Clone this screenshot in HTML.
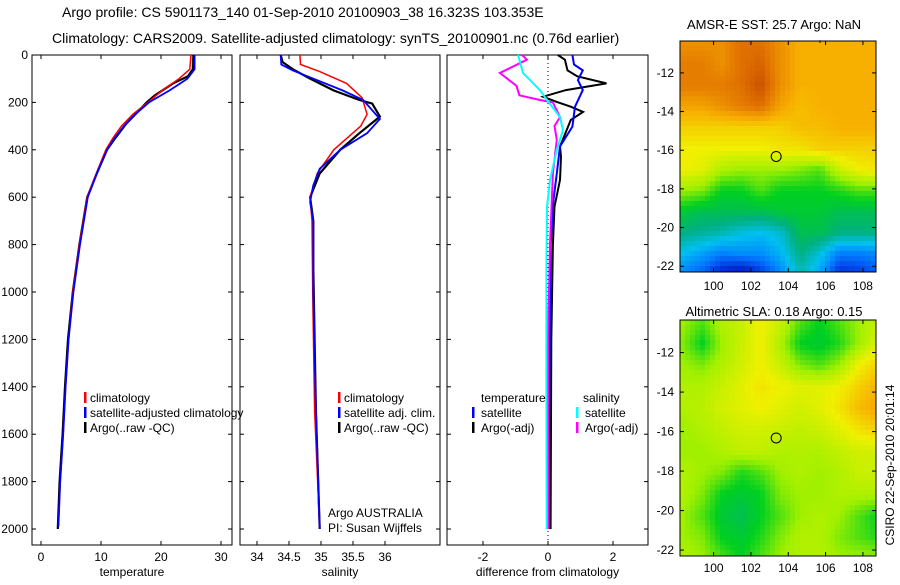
<!DOCTYPE html>
<html><head><meta charset="utf-8"><style>
body{margin:0;background:#fff;width:900px;height:580px;overflow:hidden}
svg{font-family:"Liberation Sans",sans-serif}
</style></head><body>
<svg id="c" width="900" height="580">
<text x="62" y="17" font-size="14">Argo profile: CS 5901173_140 01-Sep-2010 20100903_38 16.323S 103.353E</text>
<text x="52" y="43" font-size="14">Climatology: CARS2009. Satellite-adjusted climatology: synTS_20100901.nc (0.76d earlier)</text>
<text x="774" y="29" font-size="13" text-anchor="middle">AMSR-E SST: 25.7 Argo: NaN</text>
<text x="774" y="316" font-size="13" text-anchor="middle">Altimetric SLA: 0.18 Argo: 0.15</text>
<text transform="translate(894,465) rotate(-90)" font-size="12" text-anchor="middle">CSIRO 22-Sep-2010 20:01:14</text>
</svg>
<script>
// ---- data ----
const depthTicks=[0,200,400,600,800,1000,1200,1400,1600,1800,2000];
const tempTicks=[0,10,20,30];
const salTicks=[34,34.5,35,35.5,36];
const diffTicks=[-2,0,2];
const tClimD=[0,60,100,150,200,250,300,350,400,500,600,800,1000,1200,1400,1600,1800,1990];
const tClim=[25.0,24.8,23.0,20.2,17.8,15.3,13.4,12.0,10.8,9.2,7.7,6.4,5.3,4.6,4.1,3.7,3.2,2.9];
const tSat=[25.6,25.6,24.4,21.4,18.0,15.7,13.8,12.3,11.0,9.3,7.8,6.5,5.4,4.6,4.1,3.7,3.2,2.9];
const tArgD=[0,60,90,120,170,200,230,290,350,400,500,600,800,1000,1200,1400,1600,1800,2000];
const tArgo=[25.4,25.3,24.5,22.0,19.0,17.6,16.5,14.2,12.4,11.0,9.3,7.7,6.4,5.3,4.5,4.0,3.6,3.1,2.8];
const sClimD=[0,40,70,120,180,250,300,400,500,600,700,1000,1500,2000];
const sClim=[34.67,34.68,34.98,35.4,35.64,35.72,35.62,35.2,34.94,34.83,34.86,34.87,34.9,34.98];
const sSatD=[0,40,65,150,190,270,330,400,480,550,620,700,1000,1500,2000];
const sSat=[34.37,34.38,34.56,35.34,35.66,35.92,35.72,35.3,34.98,34.88,34.83,34.88,34.88,34.92,34.98];
const sArgD=[0,30,60,100,150,190,205,260,330,400,500,600,700,900,1500,2000];
const sArgo=[34.37,34.4,34.56,34.83,35.2,35.6,35.8,35.92,35.6,35.3,34.98,34.83,34.88,34.88,34.92,34.98];
const dTD=[0,40,65,106,148,218,302,386,500,610,800,1200,1600,2000];
const dTSat=[0.75,0.8,1.07,0.92,1.07,0.83,0.75,0.37,0.27,0.17,0.08,0.05,0.03,0.02];
const dTAD=[0,20,65,90,120,148,176,197,218,240,274,386,430,527,640,800,1200,2000];
const dTArgo=[0.3,0.52,0.6,0.9,1.8,0.55,-0.15,0.25,0.7,1.08,0.7,0.37,0.4,0.37,0.2,0.15,0.1,0.08];
const dSD=[0,76,148,190,262,316,400,527,640,900,1400,2000];
const dSSat=[-0.92,-0.77,-0.25,-0.03,0.37,0.46,0.27,0.06,-0.03,-0.05,-0.05,-0.04];
const dSAD=[0,20,76,130,170,190,200,262,300,358,500,800,1200,2000];
const dSArgo=[-0.8,-0.65,-1.48,-0.97,-0.88,-0.25,0.15,0.37,0.2,0.27,0.15,0.06,0.0,0.0];
const sstGrid=[
[.85,.85,.85,.9,.9,.85,.8,.8,.8,.8,.8],
[.88,.88,.85,.9,.92,.85,.8,.8,.8,.8,.8],
[.88,.88,.88,.9,.95,.85,.8,.8,.8,.8,.8],
[.82,.82,.85,.88,.9,.82,.78,.8,.8,.8,.8],
[.75,.75,.75,.75,.75,.75,.78,.78,.8,.8,.8],
[.7,.7,.7,.7,.7,.72,.72,.75,.75,.75,.75],
[.7,.68,.62,.6,.6,.6,.58,.55,.65,.7,.72],
[.6,.58,.5,.5,.55,.5,.5,.5,.52,.55,.55],
[.48,.45,.45,.45,.45,.48,.48,.48,.45,.45,.45],
[.4,.38,.36,.32,.3,.33,.45,.45,.4,.4,.4],
[.3,.25,.2,.22,.22,.28,.4,.32,.2,.2,.22],
[.2,.15,.06,.02,.1,.2,.35,.25,.08,.1,.15]];
const slaGrid=[
[.6,.55,.62,.65,.7,.65,.55,.5,.55,.6,.65],
[.58,.5,.6,.65,.7,.62,.5,.48,.52,.6,.68],
[.6,.58,.62,.66,.7,.65,.58,.55,.6,.7,.75],
[.62,.62,.65,.68,.72,.7,.68,.68,.7,.75,.8],
[.62,.63,.66,.68,.7,.68,.66,.68,.72,.78,.82],
[.6,.62,.64,.66,.66,.65,.64,.65,.68,.72,.75],
[.6,.6,.62,.64,.64,.62,.62,.62,.64,.66,.66],
[.62,.6,.58,.52,.55,.6,.62,.6,.62,.65,.65],
[.62,.58,.5,.48,.5,.58,.6,.6,.62,.62,.62],
[.6,.55,.48,.45,.5,.55,.6,.62,.6,.55,.5],
[.6,.58,.5,.48,.52,.58,.62,.62,.58,.55,.52],
[.62,.6,.55,.5,.55,.6,.62,.62,.6,.6,.6]];
const lonTicks=[100,102,104,106,108];
const latTicks=[-12,-14,-16,-18,-20,-22];
const argoLon=103.353, argoLat=-16.323;

const S=document.getElementById('c');const NS='http://www.w3.org/2000/svg';
function el(t,a,txt){const e=document.createElementNS(NS,t);for(const k in a)e.setAttribute(k,a[k]);if(txt!==undefined)e.textContent=txt;S.appendChild(e);return e;}
const Y0=55,YB=545,dy=d=>Y0+d*0.237;
function panel(name,x0,x1,xs,ticks,xlabel,showY){
  const f=el('rect',{x:x0,y:Y0,width:x1-x0,height:YB-Y0,fill:'none',stroke:'#000'});
  
  
  ticks.forEach(t=>{const x=xs(t);
    el('line',{x1:x,x2:x,y1:Y0,y2:Y0+4,stroke:'#000'});el('line',{x1:x,x2:x,y1:YB,y2:YB-4,stroke:'#000'});
    const l=el('text',{x:x,y:YB+16,'font-size':12,'text-anchor':'middle'},String(t));
    
    });
  depthTicks.forEach(d=>{const y=dy(d);
    el('line',{x1:x0,x2:x0+4,y1:y,y2:y,stroke:'#000'});el('line',{x1:x1,x2:x1-4,y1:y,y2:y,stroke:'#000'});
    if(showY){const l=el('text',{x:28,y:y+4,'font-size':12,'text-anchor':'end'},String(d));
      
      }});
  const xl=el('text',{x:(x0+x1)/2,y:576,'font-size':12,'text-anchor':'middle'},xlabel);
  
  
}
function line(name,ds,vs,xs,color,w){
  const p=el('polyline',{points:ds.map((d,i)=>xs(vs[i]).toFixed(1)+','+dy(d).toFixed(1)).join(' '),fill:'none',stroke:color,'stroke-width':w});
  
  
}
function txt(name,x,y,s,size){const t=el('text',{x:x,y:y,'font-size':size||12},s);
  
  }
function bar(x,y,c){el('rect',{x:x,y:y-10,width:2.5,height:11,fill:c});}

const xT=v=>41+v*6, xS=v=>257+(v-34)*64, xD=v=>548+v*32.5;
panel('temperature-panel',32,232,xT,tempTicks,'temperature',true);
line('temp-argo-line',tArgD,tArgo,xT,'#000',2.2);
line('temp-climatology-line',tClimD,tClim,xT,'#f00',1.5);
line('temp-satellite-line',tClimD,tSat,xT,'#00f',1.8);
panel('salinity-panel',240,440,xS,salTicks,'salinity',false);
line('sal-argo-line',sArgD,sArgo,xS,'#000',2.2);
line('sal-climatology-line',sClimD,sClim,xS,'#f00',1.5);
line('sal-satellite-line',sSatD,sSat,xS,'#00f',1.8);
panel('difference-panel',447,648,xD,diffTicks,'difference from climatology',false);
el('line',{x1:xD(0),x2:xD(0),y1:Y0,y2:YB,stroke:'#000','stroke-dasharray':'1,3'});
line('diff-temp-argo-line',dTAD,dTArgo,xD,'#000',2);
line('diff-temp-satellite-line',dTD,dTSat,xD,'#00f',2);
line('diff-sal-argo-line',dSAD,dSArgo,xD,'#f0f',2);
line('diff-sal-satellite-line',dSD,dSSat,xD,'#0ff',2);

bar(84,402,'#f00');txt('legend-climatology',90,402,'climatology');
bar(84,417,'#00f');txt('legend-satellite-adjusted',90,417,'satellite-adjusted climatology');
bar(84,432,'#000');txt('legend-argo',90,432,'Argo(..raw -QC)');
bar(338,402,'#f00');txt('legend-sal-climatology',344,402,'climatology');
bar(338,417,'#00f');txt('legend-sal-satellite',344,417,'satellite adj. clim.');
bar(338,432,'#000');txt('legend-sal-argo',344,432,'Argo(..raw -QC)');
txt('float-country',328,517,'Argo AUSTRALIA');txt('float-pi',328,532,'PI: Susan Wijffels');
txt('legend-temperature-header',481,402,'temperature');txt('legend-salinity-header',583,402,'salinity');
bar(472,417,'#00f');txt('legend-temp-satellite',481,417,'satellite');
bar(472,432,'#000');txt('legend-temp-argo',481,432,'Argo(-adj)');
bar(576,417,'#0ff');txt('legend-sal-satellite-diff',585,417,'satellite');
bar(576,432,'#f0f');txt('legend-sal-argo-diff',585,432,'Argo(-adj)');

// maps
const stops=[[0,[0,10,128]],[.1,[0,48,224]],[.2,[0,128,255]],[.3,[0,192,240]],[.4,[0,176,128]],[.5,[0,208,32]],[.6,[160,240,0]],[.7,[240,240,0]],[.8,[248,176,0]],[.9,[224,112,0]],[1,[176,48,0]]];
function cmap(v){v=Math.max(0,Math.min(1,v));for(let i=1;i<stops.length;i++){if(v<=stops[i][0]){const a=stops[i-1],b=stops[i],t=(v-a[0])/(b[0]-a[0]);return 'rgb('+a[1].map((c,j)=>Math.round(c+(b[1][j]-c)*t)).join(',')+')';}}return 'rgb(176,48,0)';}
function map(name,grid,x0,y0,x1,y1,lonLabelY){
  const lonMin=98.2,lonMax=108.7,latTop=-10.35,latBot=-22.3;
  const lx=l=>x0+(l-lonMin)/(lonMax-lonMin)*(x1-x0), ly=l=>y0+(latTop-l)/(latTop-latBot)*(y1-y0);
  const R=grid.length,C=grid[0].length,cs=5;
  const g=el('g',{});
  for(let y=y0;y<y1;y+=cs)for(let x=x0;x<x1;x+=cs){
    const fr=(y-y0)/(y1-y0)*(R-1),fc=(x-x0)/(x1-x0)*(C-1);const r=Math.floor(fr),c=Math.floor(fc);
    const r2=Math.min(r+1,R-1),c2=Math.min(c+1,C-1),tr=fr-r,tc=fc-c;
    const v=grid[r][c]*(1-tr)*(1-tc)+grid[r][c2]*(1-tr)*tc+grid[r2][c]*tr*(1-tc)+grid[r2][c2]*tr*tc;
    const e=document.createElementNS(NS,'rect');e.setAttribute('x',x);e.setAttribute('y',y);
    e.setAttribute('width',Math.min(cs,x1-x));e.setAttribute('height',Math.min(cs,y1-y));e.setAttribute('fill',cmap(v));g.appendChild(e);}
  const f=el('rect',{x:x0,y:y0,width:x1-x0,height:y1-y0,fill:'none',stroke:'#000'});
  
  lonTicks.forEach(l=>{const x=lx(l);el('line',{x1:x,x2:x,y1:y0,y2:y0+4,stroke:'#000'});el('line',{x1:x,x2:x,y1:y1,y2:y1-4,stroke:'#000'});
    const t=el('text',{x:x,y:lonLabelY,'font-size':12,'text-anchor':'middle'},String(l));
    });
  latTicks.forEach(l=>{const y=ly(l);el('line',{x1:x0,x2:x0+4,y1:y,y2:y,stroke:'#000'});el('line',{x1:x1,x2:x1-4,y1:y,y2:y,stroke:'#000'});
    const t=el('text',{x:x0-6,y:y+4,'font-size':12,'text-anchor':'end'},String(l));
    });
  const m=el('circle',{cx:lx(argoLon),cy:ly(argoLat),r:5,fill:'none',stroke:'#000'});
  
  el('text',{x:lx(105.7),y:y0+5,'font-size':8,'text-anchor':'middle'},'*');
}
map('sst-map',sstGrid,680,41,876,272,290);
map('sla-map',slaGrid,680,320,876,556,572);
</script>
</body></html>
